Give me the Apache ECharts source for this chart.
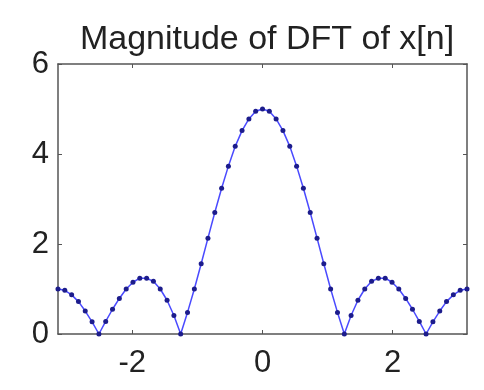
<!DOCTYPE html>
<html>
<head>
<meta charset="utf-8">
<script src="https://cdn.jsdelivr.net/npm/echarts@6/dist/echarts.min.js"></script>
<style>html,body{margin:0;padding:0;background:#fff}#c{width:484px;height:390px}</style>
</head>
<body>
<div id="c"></div>
<script>
const titleText = 'Magnitude of DFT of x[n]';
const omega = [
-3.142,-3.037,-2.932,-2.827,-2.723,-2.618,-2.513,-2.409,-2.304,-2.199,
-2.094,-1.990,-1.885,-1.780,-1.676,-1.571,-1.466,-1.361,-1.257,-1.152,
-1.047,-0.942,-0.838,-0.733,-0.628,-0.524,-0.419,-0.314,-0.209,-0.105,
0,
0.105,0.209,0.314,0.419,0.524,0.628,0.733,0.838,0.942,1.047,
1.152,1.257,1.361,1.466,1.571,1.676,1.780,1.885,1.990,2.094,
2.199,2.304,2.409,2.513,2.618,2.723,2.827,2.932,3.037,3.142];
const magnitude = [
1.00,0.97,0.87,0.72,0.51,0.27,0,0.28,0.55,0.79,
1.00,1.15,1.24,1.24,1.17,1.00,0.75,0.41,0,0.48,
1.00,1.56,2.13,2.70,3.24,3.73,4.17,4.52,4.78,4.95,
5.00,
4.95,4.78,4.52,4.17,3.73,3.24,2.70,2.13,1.56,1.00,
0.48,0,0.41,0.75,1.00,1.17,1.24,1.24,1.15,1.00,
0.79,0.55,0.28,0,0.27,0.51,0.72,0.87,0.97,1.00];
const xTicks = [-2, 0, 2];
const yTicks = [0, 2, 4, 6];

const font = 'Liberation Sans, Arial, sans-serif';
const axisCol = '#555';
const chart = echarts.init(document.getElementById('c'));
const xBase = {
  type: 'value', min: -Math.PI, max: Math.PI,
  axisLine: {show: true, onZero: false, lineStyle: {color: axisCol, width: 1.5}},
  axisTick: {show: true, inside: true, length: 4, customValues: xTicks, lineStyle: {color: axisCol}},
  splitLine: {show: false}
};
const yBase = {
  type: 'value', min: 0, max: 6, interval: 2,
  axisLine: {show: true, onZero: false, lineStyle: {color: axisCol, width: 1.5}},
  axisTick: {show: true, inside: true, length: 4, lineStyle: {color: axisCol}},
  splitLine: {show: false}
};
chart.setOption({
  animation: false,
  backgroundColor: '#fff',
  title: {
    text: titleText, left: 262, top: 18, textAlign: 'center',
    textStyle: {fontFamily: font, fontSize: 34, fontWeight: 'normal', color: '#222'}
  },
  grid: {left: 58, right: 17, top: 64, bottom: 56},
  xAxis: [
    Object.assign({}, xBase, {position: 'bottom',
      axisLabel: {customValues: xTicks, fontFamily: font, fontSize: 31, color: '#222', margin: 14}}),
    Object.assign({}, xBase, {position: 'top', axisLabel: {show: false}})
  ],
  yAxis: [
    Object.assign({}, yBase, {position: 'left',
      axisLabel: {fontFamily: font, fontSize: 31, color: '#222', margin: 9}}),
    Object.assign({}, yBase, {position: 'right', axisLabel: {show: false}})
  ],
  series: [{
    type: 'line',
    data: omega.map((w, i) => [w, magnitude[i]]),
    symbol: 'circle', symbolSize: 5,
    lineStyle: {color: '#4a4aff', width: 1.5},
    itemStyle: {color: '#1c1c8c'},
    clip: false
  }]
});
</script>
</body>
</html>
